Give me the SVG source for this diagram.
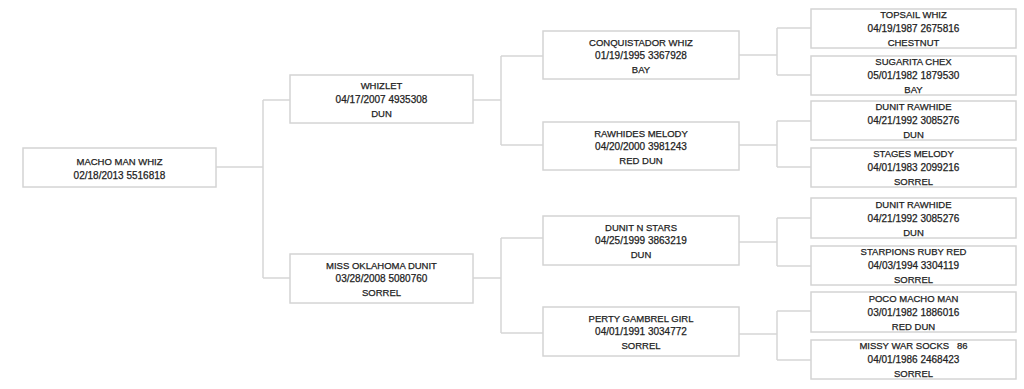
<svg xmlns="http://www.w3.org/2000/svg" width="1024" height="389" viewBox="0 0 1024 389">
<style>
.box{fill:#fff;stroke:#d4d4d4;stroke-width:1.5}
.c{fill:none;stroke:#d6d6d6;stroke-width:1.5}
text{font-family:"Liberation Sans",Arial,sans-serif;fill:#222;stroke:#222;stroke-width:0.25;text-anchor:middle}
.n{font-size:9.5px}
.d{font-size:10px}
</style>
<rect width="1024" height="389" fill="#fff"/>
<g id="connectors">
<path class="c" d="M216 167H263M263 100V278M263 100H290M263 278H290"/>
<path class="c" d="M473 100H501M501 56V145M501 56H543M501 145H543"/>
<path class="c" d="M473 278H501M501 238V333M501 238H543M501 333H543"/>
<path class="c" d="M739 55H777M777 28V75M777 28H811M777 75H811"/>
<path class="c" d="M739 145H777M777 121V167M777 121H811M777 167H811"/>
<path class="c" d="M739 242H777M777 218V266M777 218H811M777 266H811"/>
<path class="c" d="M739 334H777M777 311V360M777 311H811M777 360H811"/>
</g>
<g id="macho-man-whiz">
<rect class="box" x="23" y="148" width="193" height="39"/>
<text class="n" x="119.5" y="164.5">MACHO MAN WHIZ</text>
<text class="d" x="119.5" y="178.5">02/18/2013 5516818</text>
</g>
<g id="whizlet">
<rect class="box" x="290" y="75" width="183" height="48"/>
<text class="n" x="381.5" y="89">WHIZLET</text>
<text class="d" x="381.5" y="103">04/17/2007 4935308</text>
<text class="n" x="381.5" y="116.5">DUN</text>
</g>
<g id="miss-oklahoma-dunit">
<rect class="box" x="290" y="254" width="183" height="49"/>
<text class="n" x="381.5" y="268.5">MISS OKLAHOMA DUNIT</text>
<text class="d" x="381.5" y="282">03/28/2008 5080760</text>
<text class="n" x="381.5" y="295.5">SORREL</text>
</g>
<g id="conquistador-whiz">
<rect class="box" x="543" y="31" width="196" height="48"/>
<text class="n" x="641" y="45.5">CONQUISTADOR WHIZ</text>
<text class="d" x="641" y="59">01/19/1995 3367928</text>
<text class="n" x="641" y="72.5">BAY</text>
</g>
<g id="rawhides-melody">
<rect class="box" x="543" y="122" width="196" height="48"/>
<text class="n" x="641" y="136.5">RAWHIDES MELODY</text>
<text class="d" x="641" y="150">04/20/2000 3981243</text>
<text class="n" x="641" y="163.5">RED DUN</text>
</g>
<g id="dunit-n-stars">
<rect class="box" x="543" y="216" width="196" height="49"/>
<text class="n" x="641" y="230.5">DUNIT N STARS</text>
<text class="d" x="641" y="244">04/25/1999 3863219</text>
<text class="n" x="641" y="257.5">DUN</text>
</g>
<g id="perty-gambrel-girl">
<rect class="box" x="543" y="307" width="196" height="49"/>
<text class="n" x="641" y="321.5">PERTY GAMBREL GIRL</text>
<text class="d" x="641" y="335">04/01/1991 3034772</text>
<text class="n" x="641" y="348.5">SORREL</text>
</g>
<g id="topsail-whiz">
<rect class="box" x="811" y="9" width="205" height="39"/>
<text class="n" x="913.5" y="18">TOPSAIL WHIZ</text>
<text class="d" x="913.5" y="32">04/19/1987 2675816</text>
<text class="n" x="913.5" y="46">CHESTNUT</text>
</g>
<g id="sugarita-chex">
<rect class="box" x="811" y="56" width="205" height="39"/>
<text class="n" x="913.5" y="65">SUGARITA CHEX</text>
<text class="d" x="913.5" y="79">05/01/1982 1879530</text>
<text class="n" x="913.5" y="93">BAY</text>
</g>
<g id="dunit-rawhide-1">
<rect class="box" x="811" y="101" width="205" height="39"/>
<text class="n" x="913.5" y="110">DUNIT RAWHIDE</text>
<text class="d" x="913.5" y="124">04/21/1992 3085276</text>
<text class="n" x="913.5" y="138">DUN</text>
</g>
<g id="stages-melody">
<rect class="box" x="811" y="148" width="205" height="39"/>
<text class="n" x="913.5" y="157">STAGES MELODY</text>
<text class="d" x="913.5" y="171">04/01/1983 2099216</text>
<text class="n" x="913.5" y="185">SORREL</text>
</g>
<g id="dunit-rawhide-2">
<rect class="box" x="811" y="198" width="205" height="40"/>
<text class="n" x="913.5" y="207.5">DUNIT RAWHIDE</text>
<text class="d" x="913.5" y="221.5">04/21/1992 3085276</text>
<text class="n" x="913.5" y="235.5">DUN</text>
</g>
<g id="starpions-ruby-red">
<rect class="box" x="811" y="246" width="205" height="39"/>
<text class="n" x="913.5" y="255">STARPIONS RUBY RED</text>
<text class="d" x="913.5" y="269">04/03/1994 3304119</text>
<text class="n" x="913.5" y="283">SORREL</text>
</g>
<g id="poco-macho-man">
<rect class="box" x="811" y="292" width="205" height="40"/>
<text class="n" x="913.5" y="301.5">POCO MACHO MAN</text>
<text class="d" x="913.5" y="315.5">03/01/1982 1886016</text>
<text class="n" x="913.5" y="329.5">RED DUN</text>
</g>
<g id="missy-war-socks">
<rect class="box" x="811" y="340" width="205" height="39"/>
<text class="n" x="913.5" y="349" xml:space="preserve">MISSY WAR SOCKS   86</text>
<text class="d" x="913.5" y="363">04/01/1986 2468423</text>
<text class="n" x="913.5" y="377">SORREL</text>
</g>
</svg>
